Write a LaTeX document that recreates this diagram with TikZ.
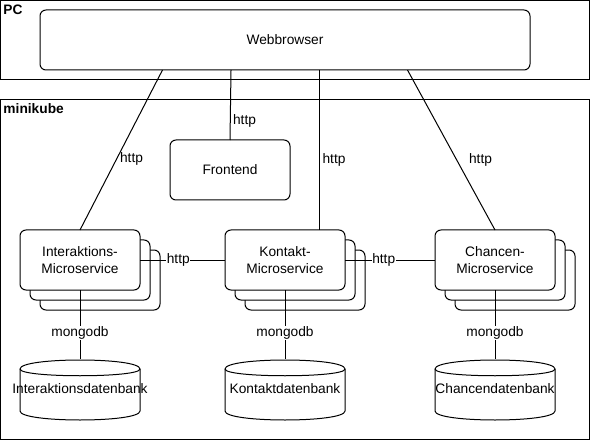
\documentclass[tikz,border=0pt]{standalone}
\usepackage{fontspec}
\setmainfont{Liberation Sans}
\usetikzlibrary{calc}
\begin{document}
\begin{tikzpicture}[x=0.75pt,y=-0.75pt,line width=0.75pt,
  txt/.style={font=\fontsize{10.3}{12.6}\selectfont},
  box/.style={draw, fill=white, rounded corners=4.5pt, minimum width=90pt, minimum height=45pt, inner sep=0pt, outer sep=0pt, align=center, txt},
  container/.style={draw, minimum height=#1, inner sep=0pt, outer sep=0pt, anchor=north west, minimum width=442pt},
  title/.style={font=\fontsize{10.3}{12.6}\selectfont\bfseries, anchor=base west, inner sep=0pt},
  lbl/.style={txt, inner sep=0.5pt},
  wlbl/.style={txt, fill=white, inner sep=0.5pt},
  conn/.style={draw, line width=0.75pt}]
\useasboundingbox (0,0) rectangle (591,441);

% containers
\node[container=59.625pt] (pc) at (0.5,0.5) {};
\node[title] (pct) at (3,15) {PC};
\node[container=255pt] (mk) at (0.5,99.5) {};
\node[title] (mkt) at (3,114) {minikube};

% webbrowser
\node[box, minimum width=367.5pt] (wb) at (285,40) {Webbrowser};
% frontend
\node[box] (fe) at (230,170) {Frontend};

% stacked back copies
\foreach \cx/\nm in {80/i,285/k,495/c}{
  \node[box] (\nm back2) at (\cx+20,280) {};
  \node[box] (\nm back1) at (\cx+10,270) {};
}
\node[box] (ims) at (80,260) {Interaktions-\\Microservice};
\node[box] (ks) at (285,260) {Kontakt-\\Microservice};
\node[box] (cs) at (495,260) {Chancen-\\Microservice};

% cylinders
\foreach \x in {20,225,435}{
  \draw[fill=white] (\x,369) .. controls (\x,357) and (\x+120,357) .. (\x+120,369) -- (\x+120,411) .. controls (\x+120,423) and (\x,423) .. (\x,411) -- cycle;
  \draw (\x,369) .. controls (\x,378) and (\x+120,378) .. (\x+120,369);
}
\node[txt, minimum width=90pt, minimum height=45pt, inner sep=0pt] (db1) at (80,389) {Interaktionsdatenbank};
\node[txt, minimum width=90pt, minimum height=45pt, inner sep=0pt] (db2) at (285,389) {Kontaktdatenbank};
\node[txt, minimum width=90pt, minimum height=45pt, inner sep=0pt] (db3) at (495,389) {Chancendatenbank};

% connectors from webbrowser
\coordinate (w1) at ($(wb.south west)!0.25!(wb.south east)$);
\coordinate (w2) at ($(wb.south west)!0.3898!(wb.south east)$);
\coordinate (w3) at ($(wb.south west)!0.5714!(wb.south east)$);
\coordinate (w4) at ($(wb.south west)!0.75!(wb.south east)$);
\draw[conn] (w1) -- (ims.north);
\draw[conn] (w2) -- (fe.north);
\draw[conn] (w3) -- (w3 |- ks.north);
\draw[conn] (w4) -- (cs.north);
\node[lbl] (h1) at (131.5,159) {http};
\node[lbl] (h2) at (244.5,121) {http};
\node[lbl] (h3) at (334,160) {http};
\node[lbl] (h4) at (480.5,160) {http};

% horizontal http
\draw[conn] (ims.east) -- node[wlbl, pos=0.45] (h5) {http} (ks.west);
\draw[conn] (ks.east) -- node[wlbl, pos=0.43] (h6) {http} (cs.west);

% mongodb
\draw[conn] (ims.south) -- node[wlbl, pos=0.63] (m1) {mongodb} (db1.north);
\draw[conn] (ks.south) -- node[wlbl, pos=0.63] (m2) {mongodb} (db2.north);
\draw[conn] (cs.south) -- node[wlbl, pos=0.63] (m3) {mongodb} (db3.north);
\end{tikzpicture}
\end{document}
